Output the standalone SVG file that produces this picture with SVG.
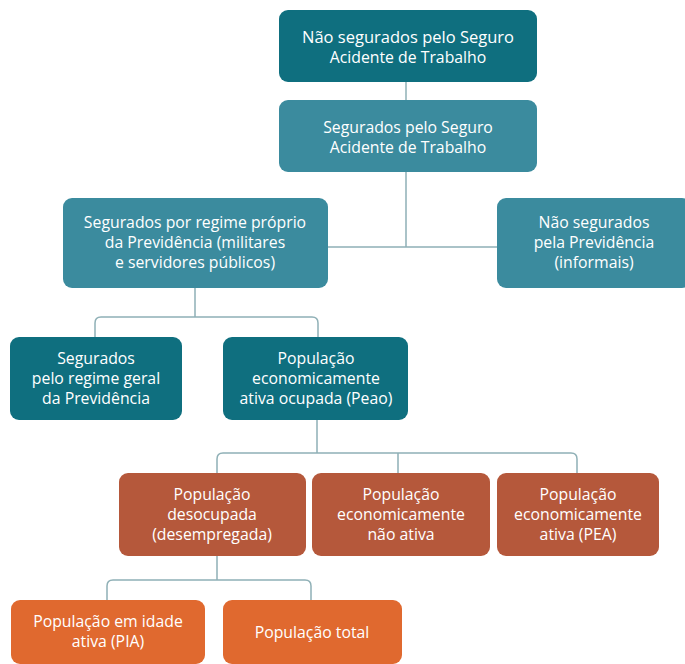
<svg xmlns="http://www.w3.org/2000/svg" width="685" height="664" viewBox="0 0 685 664">
<style>
.t{font-family:"Open Sans","Liberation Sans",sans-serif;font-size:15.8px;fill:#ffffff;text-anchor:middle}
.dk{fill:#0f6f7f}
.lt{fill:#3b8b9e}
.rs{fill:#b5583b}
.or{fill:#e0692f}
.c{fill:none;stroke:#8fb0b6;stroke-width:1.5}
</style>
<rect width="685" height="664" fill="#ffffff"/>
<g id="connectors">
<path class="c" d="M406 82V100"/>
<path class="c" d="M406 172V247M328 247H497"/>
<path class="c" d="M195 288V317M95 337V323Q95 317 101 317H312Q318 317 318 323V337"/>
<path class="c" d="M317 420V453M217 473V459Q217 453 223 453H571Q577 453 577 459V473M398 453V473"/>
<path class="c" d="M217 556V580M107 600V586Q107 580 113 580H305Q311 580 311 586V600"/>
</g>
<g id="n1"><rect class="dk" x="279" y="10" width="258" height="72" rx="9"/><text class="t" x="408" y="42.5" textLength="212" lengthAdjust="spacingAndGlyphs">Não segurados pelo Seguro</text><text class="t" x="408" y="62.5">Acidente de Trabalho</text></g>
<g id="n2"><rect class="lt" x="279" y="100" width="258" height="72" rx="9"/><text class="t" x="408" y="132.5">Segurados pelo Seguro</text><text class="t" x="408" y="152.5">Acidente de Trabalho</text></g>
<g id="n3"><rect class="lt" x="63" y="198" width="265" height="90" rx="9"/><text class="t" x="195" y="228">Segurados por regime próprio</text><text class="t" x="195" y="248">da Previdência (militares</text><text class="t" x="195" y="268">e servidores públicos)</text></g>
<g id="n4"><rect class="lt" x="497" y="198" width="194" height="90" rx="9"/><text class="t" x="594" y="228">Não segurados</text><text class="t" x="594" y="248">pela Previdência</text><text class="t" x="594" y="268">(informais)</text></g>
<g id="n5"><rect class="dk" x="10" y="337" width="172" height="83" rx="9"/><text class="t" x="96" y="364">Segurados</text><text class="t" x="96" y="384">pelo regime geral</text><text class="t" x="96" y="404">da Previdência</text></g>
<g id="n6"><rect class="dk" x="223" y="337" width="185" height="83" rx="9"/><text class="t" x="316" y="364">População</text><text class="t" x="316" y="384">economicamente</text><text class="t" x="316" y="404">ativa ocupada (Peao)</text></g>
<g id="n7"><rect class="rs" x="119" y="473" width="187" height="83" rx="9"/><text class="t" x="212" y="500">População</text><text class="t" x="212" y="520">desocupada</text><text class="t" x="212" y="540">(desempregada)</text></g>
<g id="n8"><rect class="rs" x="312" y="473" width="178" height="83" rx="9"/><text class="t" x="401" y="500">População</text><text class="t" x="401" y="520">economicamente</text><text class="t" x="401" y="540">não ativa</text></g>
<g id="n9"><rect class="rs" x="497" y="473" width="162" height="83" rx="9"/><text class="t" x="578" y="500">População</text><text class="t" x="578" y="520">economicamente</text><text class="t" x="578" y="540">ativa (PEA)</text></g>
<g id="n10"><rect class="or" x="11" y="600" width="194" height="64" rx="9"/><text class="t" x="108" y="627">População em idade</text><text class="t" x="108" y="647">ativa (PIA)</text></g>
<g id="n11"><rect class="or" x="223" y="600" width="179" height="64" rx="9"/><text class="t" x="312" y="638">População total</text></g>
</svg>
